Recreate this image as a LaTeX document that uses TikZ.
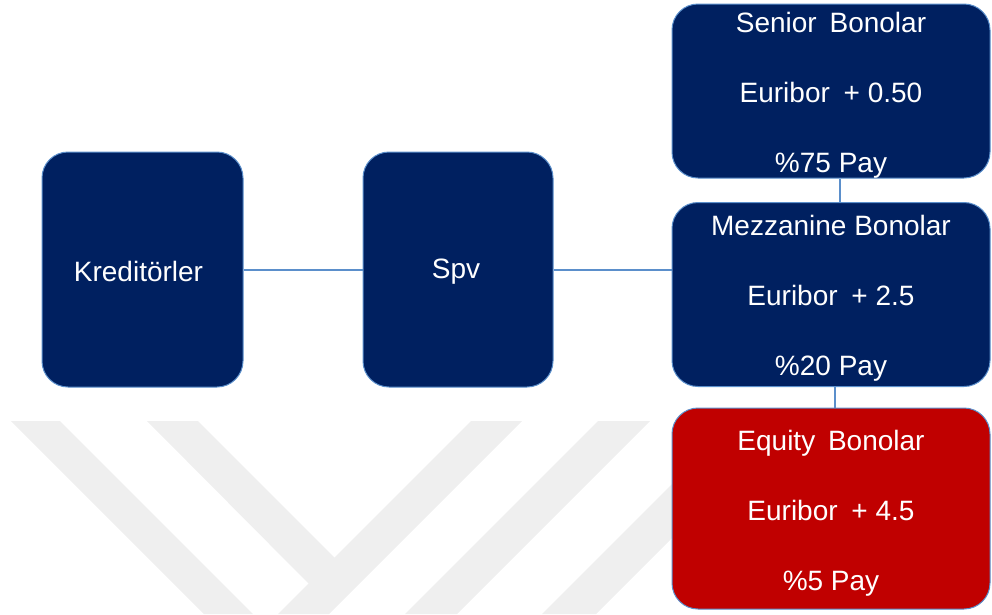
\documentclass[tikz,border=0pt]{standalone}
\usepackage{fontspec}
\setmainfont{Liberation Sans}
\definecolor{navy}{HTML}{002060}
\definecolor{tranche}{HTML}{C00000}
\definecolor{edge}{HTML}{5B8FCB}
\definecolor{wmark}{HTML}{EFEFEF}
\begin{document}
\begin{tikzpicture}[x=1pt,y=-1pt,
  box/.style={draw=edge,line width=1pt,fill=navy,rounded corners=26pt,
    text=white,align=center,inner sep=0pt,
    font=\fontsize{28}{70}\selectfont},
  redbox/.style={box,fill=tranche},
  caption/.style={text=white,align=center,inner sep=0pt,
    font=\fontsize{28}{70}\selectfont},
  link/.style={draw=edge,line width=2pt}]
\useasboundingbox (0,0) rectangle (992,614);

% faint chevron watermark in the background
\begin{scope}[fill=wmark]
  \fill (11,421) -- (60,421) -- (253,614) -- (204,614) -- cycle;
  \fill (147,421) -- (198,421) -- (338,561) -- (312,587) -- cycle;
  \fill (471,421) -- (522,421) -- (329,614) -- (278,614) -- cycle;
  \fill (598,421) -- (650,421) -- (457,614) -- (405,614) -- cycle;
  \fill (735,421) -- (789,421) -- (596,614) -- (542,614) -- cycle;
\end{scope}

% parties
\node[box,minimum width=201pt,minimum height=235pt] (kred) at (142.5,269.5) {};
\node[caption] (kredT) at ([xshift=-4pt,yshift=-2pt]kred.center) {Kreditörler};
\node[box,minimum width=190pt,minimum height=235pt] (spv) at (458,269.5) {};
\node[caption] (spvT) at ([xshift=-2pt,yshift=-2pt]spv.center) {Spv};

% tranches
\node[box,minimum width=318pt,minimum height=174pt] (senior) at (831,91) {};
\node[caption] (seniorT) at ([yshift=-4pt]senior.center)
  {Senior\hspace{5pt} Bonolar\\Euribor\hspace{6pt} + 0.50\\\%75 Pay};
\node[box,minimum width=318pt,minimum height=184pt] (mezz) at (831,294.5) {};
\node[caption] (mezzT) at ([yshift=-4pt]mezz.center)
  {Mezzanine Bonolar\\Euribor\hspace{6pt} + 2.5\\\%20 Pay};
\node[redbox,minimum width=318pt,minimum height=201pt] (equity) at (831,508.5) {};
\node[caption] (equityT) at ([yshift=-5pt]equity.center)
  {Equity\hspace{5pt} Bonolar\\Euribor\hspace{6pt} + 4.5\\\%5 Pay};

% connectors
\draw[link] (kred.east) -- (spv.west);
\draw[link] (spv.east) -- (spv.east -| mezz.west);
\draw[link] ([xshift=9pt]senior.south) -- ([xshift=9pt]senior.south |- mezz.north);
\draw[link] ([xshift=4pt]mezz.south) -- ([xshift=4pt]mezz.south |- equity.north);
\end{tikzpicture}
\end{document}
